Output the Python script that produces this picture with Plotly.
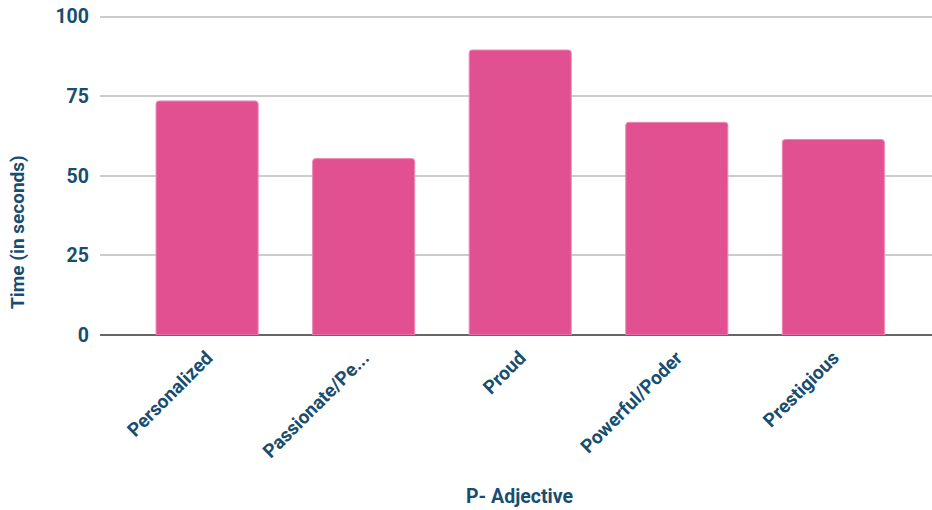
import plotly.graph_objects as go

categories = ["Personalized", "Passionate/Pe...", "Proud", "Powerful/Poder", "Prestigious"]
values = [73.5, 55.4, 89.5, 66.8, 61.4]
y_ticks = [0, 25, 50, 75, 100]

text_color = "#174e6f"
bar_color = "#e15192"

fig = go.Figure(go.Bar(
    x=categories, y=values,
    marker=dict(color=bar_color, line=dict(color="#ef86b3", width=1), cornerradius=3),
))

W, H = 932, 510
ml, mr, mt, mb = 100, 0, 15, 175
pw, ph = W - ml - mr, H - mt - mb

def px_x(p):
    return (p - ml) / pw

def px_y(p):
    return (H - mb - p) / ph

fig.update_layout(
    width=W, height=H,
    margin=dict(l=ml, r=mr, t=mt, b=mb),
    plot_bgcolor="white", paper_bgcolor="white",
    bargap=0.348,
    font=dict(family="Roboto", color=text_color, size=16),
    showlegend=False,
    xaxis=dict(
        range=[-0.684, 4.63],
        tickangle=-45,
        tickfont=dict(family="Roboto", size=19, color=text_color, weight="bold"),
        showgrid=False,
        showline=False,
        ticks="", ticklabelstandoff=7,
    ),
    yaxis=dict(
        range=[0, 100.5],
        tickvals=y_ticks,
        ticktext=[str(v) for v in y_ticks],
        tickfont=dict(family="Roboto", size=19.5, color=text_color, weight="bold"),
        gridcolor="#cccccc", gridwidth=1.5,
        zeroline=True, zerolinecolor="#666666", zerolinewidth=2,
        ticks="", ticklabelstandoff=10,
    ),
    annotations=[
        dict(text="<b>Time (in seconds)</b>", textangle=-90,
             x=px_x(17), y=px_y(232), xref="paper", yref="paper",
             xanchor="center", yanchor="middle", showarrow=False,
             font=dict(family="Roboto", size=19, color=text_color)),
        dict(text="<b>P- Adjective</b>",
             x=px_x(519), y=px_y(496), xref="paper", yref="paper",
             xanchor="center", yanchor="middle", showarrow=False,
             font=dict(family="Roboto", size=19.5, color=text_color)),
    ],
)

fig.write_html("out.html")
